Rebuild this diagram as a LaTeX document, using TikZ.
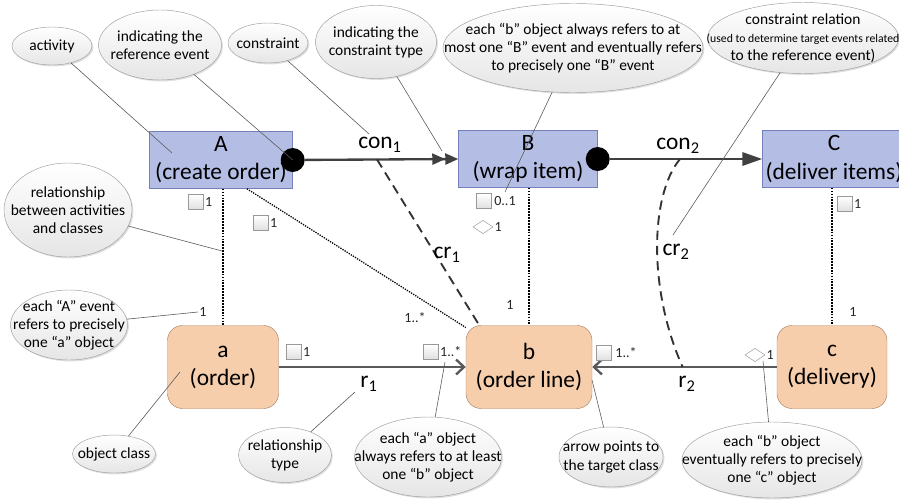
\documentclass[tikz,border=0pt]{standalone}
\usepackage{fontspec}
\setmainfont{Carlito}
\usetikzlibrary{arrows.meta,shapes.geometric,shadows,positioning}
\definecolor{actfill}{RGB}{180,190,228}
\definecolor{actborder}{RGB}{115,128,185}
\definecolor{clsfill}{RGB}{246,206,172}
\definecolor{clsborder}{RGB}{170,130,100}

\begin{document}
\begin{tikzpicture}[x=0.03cm,y=-0.03cm,
  act/.style={draw=actborder,fill=actfill,minimum width=4.29cm,minimum height=1.71cm,align=center,inner sep=0pt,font=\fontsize{20}{24}\selectfont},
  cls/.style={draw=clsborder,fill=clsfill,rounded corners=0.45cm,minimum height=2.49cm,align=center,inner sep=0pt,font=\fontsize{20}{24}\selectfont},
  note/.style={ellipse,draw=gray!75,top color=white,bottom color=gray!20,drop shadow={opacity=0.25,shadow xshift=1.2pt,shadow yshift=-1.2pt},align=center,inner sep=-40pt,font=\fontsize{13.2}{15.5}\selectfont},
  ptr/.style={draw=gray!70!black,line width=0.5pt},
  dotp/.style={circle,fill=black,minimum size=0.72cm,inner sep=0pt},
  sq/.style={draw=gray!80,top color=white,bottom color=gray!25,minimum size=0.45cm,inner sep=0pt},
  dia/.style={diamond,draw=gray!80,fill=white,minimum width=0.6cm,minimum height=0.4cm,inner sep=0pt},
  mult/.style={font=\fontsize{12}{13}\selectfont,inner sep=1pt,text=black!85},
  lbl/.style={font=\fontsize{20}{22}\selectfont},
  con/.style={draw=black!75,line width=2pt},
  rel/.style={draw=black!65,line width=2pt,-{Straight Barb[length=0.24cm,width=0.45cm]}},
  link/.style={line width=1.8pt,dash pattern=on 1.5pt off 1pt},
  crl/.style={draw=black!80,line width=1.6pt,dash pattern=on 8pt off 5pt}]
\useasboundingbox (0,0) rectangle (899,500);

\node[act] (A) at (221,160) {A\\(create order)};
\node[act,minimum width=4.17cm] (B) at (528,159) {B\\(wrap item)};
\node[act] (C) at (834,159) {C\\(deliver items)};
\node[dotp] (dA) at (A.east) {};
\node[dotp] (dB) at (B.east) {};

\node[cls,minimum width=3.33cm] (a) at (223,367) {a\\(order)};
\node[cls,minimum width=3.78cm] (b) at (529,367) {b\\(order line)};
\node[cls,minimum width=3.3cm] (c) at (832,367) {c\\(delivery)};

\draw[con,-{Triangle[length=0.39cm,width=0.33cm]Triangle[length=0.39cm,width=0.33cm]}] (dA) -- coordinate[pos=0.47] (k1) (B.west);
\draw[con,-{Triangle[length=0.6cm,width=0.4cm]}] (dB) -- coordinate[pos=0.46] (k2) (C.west);
\draw[rel] (a) -- (b);
\draw[rel] (c) -- coordinate[pos=0.51] (k3) (b);
\node[lbl] (con1) at (380,145) {con\textsubscript{1}};
\node[lbl] (con2) at (678,146) {con\textsubscript{2}};
\node[lbl] (r1) at (369,384) {r\textsubscript{1}};
\node[lbl] (r2) at (687,384) {r\textsubscript{2}};

\draw[link] (A.south -| a.north) -- (a.north);
\draw[link] (B.south -| b.north) -- (b.north);
\draw[link] (C.south -| c.north) -- (c.north);
\draw[densely dotted,line width=1.1pt] (A.-48) -- (b.148);
\draw[crl] (k1) -- (b.140);
\draw[crl] (k2) .. controls (650,195) and (648,290) .. (k3);
\node[lbl] (cr1) at (447,255) {cr\textsubscript{1}};
\node[lbl] (cr2) at (676,252) {cr\textsubscript{2}};

\node[sq] (sA) at (196,202) {}; \node[mult,right=0pt of sA] {1};
\node[sq] (sAb) at (261,223) {}; \node[mult,right=0pt of sAb] {1};
\node[mult] (ma) at (203,312) {1};
\node[sq] (sa) at (294,352) {}; \node[mult,right=0pt of sa] {1};
\node[sq] (sb1) at (431,352) {}; \node[mult,right=0pt of sb1] (mb1) {1..*};
\node[mult] (mAb) at (415,318) {1..*};
\node[sq] (sB) at (484,201) {}; \node[mult,right=1pt of sB] {0..1};
\node[dia] (dBm) at (483,227) {}; \node[mult,right=0pt of dBm] {1};
\node[mult] (mb) at (510,305) {1};
\node[sq] (sb2) at (604,353) {}; \node[mult,right=2pt of sb2] {1..*};
\node[dia] (dc) at (755,355) {}; \node[mult,right=0pt of dc] {1};
\node[sq] (sC) at (845,204) {}; \node[mult,right=0pt of sC] {1};
\node[mult] (mc) at (853,312) {1};

\node[note,minimum width=2.4cm,minimum height=1.14cm] (nAct) at (52,46) {activity};
\node[note,minimum width=3.69cm,minimum height=2.1cm] (nRef) at (160,45) {indicating the\\reference event};
\node[note,minimum width=2.4cm,minimum height=1.2cm] (nCon) at (268,43) {constraint};
\node[note,minimum width=3.63cm,minimum height=2.19cm] (nType) at (376,42) {indicating the\\constraint type};
\node[note,minimum width=7.8cm,minimum height=2.67cm] (nBobj) at (573,48) {each “b” object always refers to at\\most one “B” event and eventually refers\\to precisely one “B” event};
\node[note,minimum width=5.73cm,minimum height=2.13cm] (nRel) at (803,38) {constraint relation\\\fontsize{10}{14}\selectfont(used to determine target events related\\to the reference event)};
\node[note,minimum width=3.84cm,minimum height=2.82cm] (nLink) at (68,210) {relationship\\between activities\\and classes};
\node[note,minimum width=3.51cm,minimum height=2.1cm] (nAev) at (69,325) {each “A” event\\refers to precisely\\one “a” object};
\node[note,minimum width=2.49cm,minimum height=1.14cm] (nCls) at (114,454) {object class};
\node[note,minimum width=2.79cm,minimum height=1.65cm] (nRtype) at (285,455) {relationship\\type};
\node[note,minimum width=4.41cm,minimum height=2.4cm] (nAobj) at (428,457) {each “a” object\\always refers to at least\\one “b” object};
\node[note,minimum width=3.12cm,minimum height=1.8cm] (nArr) at (611,457) {arrow points to\\the target class};
\node[note,minimum width=5.4cm,minimum height=2.28cm] (nBev) at (772,460) {each “b” object\\eventually refers to precisely\\one “c” object};

\coordinate (pAct) at (172,153);
\coordinate (pCon) at (369,134);
\coordinate (pType) at (442,151);
\coordinate (pBobj) at (505,192);
\coordinate (pRel) at (673,235);
\coordinate (pLink) at (222,251);
\coordinate (pCls) at (180,372);
\coordinate (pRtype) at (355,392);
\coordinate (pAobj) at (445,362);
\coordinate (pArr) at (592,380);
\coordinate (pBev) at (763,361);
\draw[ptr] (nAct) -- (pAct);
\draw[ptr] (nRef) -- (dA.center);
\draw[ptr] (nCon) -- (pCon);
\draw[ptr] (nType) -- (pType);
\draw[ptr] (nBobj) -- (pBobj);
\draw[ptr] (nRel) -- (pRel);
\draw[ptr] (nLink) -- (pLink);
\draw[ptr] (nAev) -- (ma.west);
\draw[ptr] (nCls) -- (pCls);
\draw[ptr] (nRtype) -- (pRtype);
\draw[ptr] (nAobj) -- (pAobj);
\draw[ptr] (nArr) -- (pArr);
\draw[ptr] (nBev) -- (pBev);
\end{tikzpicture}
\end{document}
